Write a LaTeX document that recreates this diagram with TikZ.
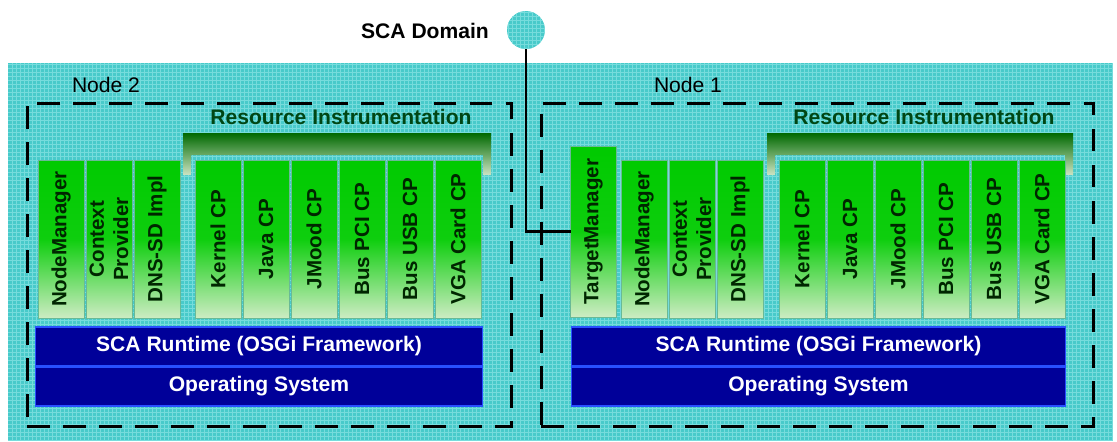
\documentclass[tikz,border=0pt]{standalone}
\usepackage{fontspec}
\setmainfont{Liberation Sans}
\usepackage{tikz}

\definecolor{bgteal}{RGB}{72,202,202}
\definecolor{gridteal}{RGB}{118,220,220}
\definecolor{bargreen}{RGB}{0,202,0}
\definecolor{barmid}{RGB}{14,206,14}
\definecolor{barpale}{RGB}{205,236,195}
\definecolor{barline}{RGB}{105,185,150}
\definecolor{layerblue}{RGB}{0,0,153}
\definecolor{layerline}{RGB}{40,80,255}
\definecolor{instrdark}{RGB}{0,105,0}
\definecolor{instrpale}{RGB}{205,228,195}
\definecolor{instrtext}{RGB}{0,70,20}

\tikzset{
    cpbar/.style={rotate=90, draw=barline, line width=0.5pt, inner sep=0pt, outer sep=0pt,
        minimum height=0.92cm, minimum width=3.16cm, top color=bargreen, bottom color=barpale,
        middle color=barmid, align=center, text=black!85!green, font=\fontsize{11.7}{13.8}\selectfont\bfseries},
    layer/.style={fill=layerblue, draw=layerline, line width=0.6pt, inner sep=0pt,
        minimum height=0.78cm, text=white, font=\fontsize{12}{14}\selectfont\bfseries},
    hostbox/.style={draw, line width=1.7pt, dash pattern=on 13pt off 7.5pt, inner sep=0pt},
    title/.style={font=\fontsize{12}{14}\selectfont, inner sep=0pt},
    instr/.style={text=instrtext, font=\fontsize{12}{14}\selectfont\bfseries, inner sep=0pt},
    gridline/.style={draw=gridteal, line width=0.3pt},
    link/.style={line width=1.6pt}
}

\begin{document}
\begin{tikzpicture}[x=0.02cm, y=-0.02cm]
    \useasboundingbox (0,0) rectangle (1117,441);
    \fill[bgteal] (8,63) rectangle (1113,441);
    \begin{scope}
        \clip (8,63) rectangle (1113,441);
        \draw[gridline, step=0.08cm] (8,63) grid (1113,441);
    \end{scope}

    % domain
    \node[circle, fill=bgteal, minimum size=0.76cm, inner sep=0pt] (dom) at (526,30) {};
    \begin{scope}
        \clip (526,30) circle (19);
        \draw[gridline, step=0.08cm] (505,9) grid (547,51);
    \end{scope}
    \node[title, font=\fontsize{12}{14}\selectfont\bfseries] (domlabel) at (425,31) {SCA Domain};

    % Node 2
    \node[hostbox, minimum width=9.7cm, minimum height=6.48cm] (host2) at (269.5,265) {};
    \node[title] (host2label) at (106,85) {Node 2};
    \shade[top color=instrdark, bottom color=instrpale]
        (183,133) -- (491,133) -- (491,175) -- (483,175) -- (483,155) -- (191,155) -- (191,175) -- (183,175) -- cycle;
    \node[instr] (instr2) at (341,117) {Resource Instrumentation};
    \node[cpbar] (nm2)    at (61,239)  {NodeManager};
    \node[cpbar] (ctx2)   at (109,239) {Context\\Provider};
    \node[cpbar] (dns2)   at (157,239) {DNS-SD Impl};
    \node[cpbar] (kern2)  at (218,239) {Kernel CP};
    \node[cpbar] (java2)  at (266,239) {Java CP};
    \node[cpbar] (jmood2) at (314,239) {JMood CP};
    \node[cpbar] (pci2)   at (362,239) {Bus PCI CP};
    \node[cpbar] (usb2)   at (410,239) {Bus USB CP};
    \node[cpbar] (vga2)   at (458,239) {VGA Card CP};
    \node[layer, minimum width=8.96cm] (rt2) at (259,346.5) {SCA Runtime (OSGi Framework)};
    \node[layer, minimum width=8.96cm] (os2) at (259,386.5) {Operating System};

    % Node 1
    \node[hostbox, minimum width=11.06cm, minimum height=6.48cm] (host1) at (817.5,265) {};
    \node[title] (host1label) at (688,85) {Node 1};
    \shade[top color=instrdark, bottom color=instrpale]
        (767,133) -- (1073,133) -- (1073,175) -- (1065,175) -- (1065,155) -- (775,155) -- (775,175) -- (767,175) -- cycle;
    \node[instr] (instr1) at (924,117) {Resource Instrumentation};
    \node[cpbar, minimum width=3.42cm] (tm1) at (593.5,231.5) {TargetManager};
    \node[cpbar] (nm1)    at (644,239)  {NodeManager};
    \node[cpbar] (ctx1)   at (692,239)  {Context\\Provider};
    \node[cpbar] (dns1)   at (740,239)  {DNS-SD Impl};
    \node[cpbar] (kern1)  at (802,239)  {Kernel CP};
    \node[cpbar] (java1)  at (850,239)  {Java CP};
    \node[cpbar] (jmood1) at (898,239)  {JMood CP};
    \node[cpbar] (pci1)   at (946,239)  {Bus PCI CP};
    \node[cpbar] (usb1)   at (994,239)  {Bus USB CP};
    \node[cpbar] (vga1)   at (1042,239) {VGA Card CP};
    \node[layer, minimum width=9.9cm] (rt1) at (818.5,346.5) {SCA Runtime (OSGi Framework)};
    \node[layer, minimum width=9.9cm] (os1) at (818.5,386.5) {Operating System};

    \draw[link] (dom.south) |- (tm1.north);
\end{tikzpicture}
\end{document}
